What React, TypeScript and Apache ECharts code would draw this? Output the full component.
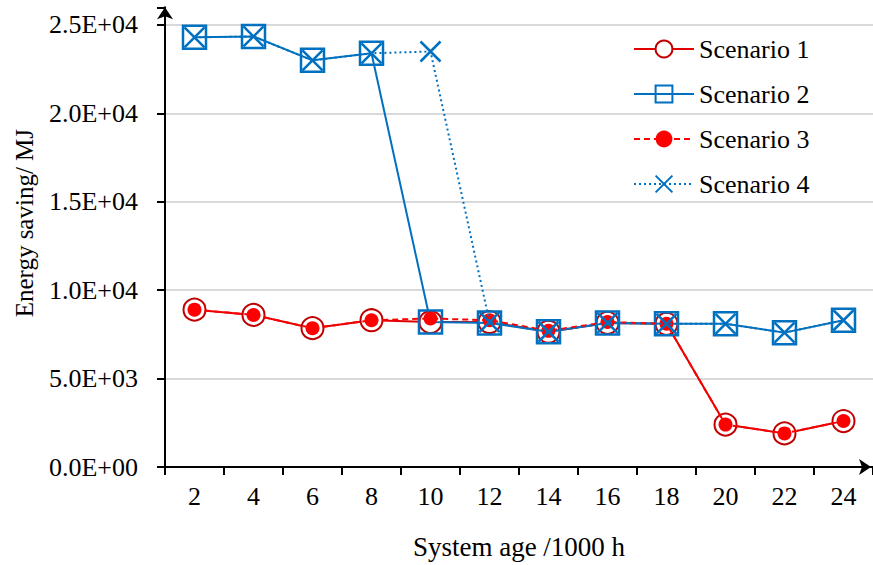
import React, { useEffect, useRef } from 'react';
import * as echarts from 'echarts';

const categories = ['2', '4', '6', '8', '10', '12', '14', '16', '18', '20', '22', '24'];
const scenario1 = [8900, 8600, 7850, 8300, 8200, 8200, 7650, 8150, 8100, 2400, 1900, 2600];
const scenario2 = [24300, 24350, 23000, 23400, 8200, 8150, 7650, 8150, 8100, 8100, 7600, 8300];
const scenario3 = [8900, 8600, 7850, 8300, 8400, 8300, 7700, 8200, 8100, 2400, 1900, 2600];
const scenario4 = [24300, 24350, 23000, 23400, 23500, 8200, 7650, 8150, 8100, 8100, 7600, 8300];
const Y_MIN = 0;
const Y_TOP_TICK = 25000;
const Y_AXIS_END = 26000;
const Y_STEP = 5000;

const FONT = "'Liberation Serif', 'Times New Roman', serif";
const RED_DARK = '#C00000';
const RED = '#FF0000';
const BLUE = '#0070C0';

function sci(v: number): string {
  if (v > Y_TOP_TICK) return '';
  const [m, e] = v.toExponential(1).split('e');
  const n = parseInt(e, 10);
  const sign = n < 0 ? '-' : '+';
  const abs = Math.abs(n);
  return m + 'E' + sign + (abs < 10 ? '0' + abs : String(abs));
}

export default function App() {
  const ref = useRef<HTMLDivElement>(null);
  useEffect(() => {
    if (!ref.current) return;
    const chart = echarts.init(ref.current, null, { renderer: 'svg' });
    chart.setOption({
      animation: false,
      backgroundColor: '#fff',
      grid: { left: 165, top: 7.3, width: 711, height: 459.7 },
      legend: {
        orient: 'vertical',
        left: 628,
        top: 31,
        itemWidth: 60,
        itemHeight: 21,
        itemGap: 19,
        textStyle: { fontFamily: FONT, fontSize: 26, color: '#000' },
        data: ['Scenario 1', 'Scenario 2', 'Scenario 3', 'Scenario 4'],
      },
      xAxis: {
        type: 'category',
        data: categories,
        boundaryGap: true,
        name: 'System age /1000 h',
        nameLocation: 'middle',
        nameGap: 66,
        nameTextStyle: { fontFamily: FONT, fontSize: 27, color: '#000' },
        axisLine: {
          lineStyle: { color: '#000', width: 2 },
          symbol: ['none', 'arrow'],
          symbolSize: [12, 12],
          symbolOffset: [0, -2],
        },
        axisTick: { show: true, length: 8, inside: false, lineStyle: { color: '#000', width: 2 } },
        axisLabel: { fontFamily: FONT, fontSize: 26, color: '#000', margin: 16 },
        splitLine: { show: false },
      },
      yAxis: [
        {
          type: 'value',
          min: Y_MIN,
          max: Y_AXIS_END,
          interval: Y_STEP,
          name: 'Energy saving/ MJ',
          nameLocation: 'middle',
          nameGap: 128,
          nameTextStyle: { fontFamily: FONT, fontSize: 25, color: '#000', padding: [0, 0, 0, 28] },
          axisLine: {
            show: true,
            onZero: false,
            lineStyle: { color: '#000', width: 2 },
            symbol: ['none', 'arrow'],
            symbolSize: [12, 12],
          },
          axisTick: {
            show: true,
            length: 8,
            inside: false,
            lineStyle: { color: '#000', width: 2 },
          },
          axisLabel: {
            fontFamily: FONT,
            fontSize: 26,
            color: '#000',
            margin: 27,
            showMaxLabel: false,
            formatter: (v: number) => sci(v),
          },
          splitLine: { show: true, showMaxLine: false, lineStyle: { color: '#D9D9D9', width: 2 } },
        },
        {
          type: 'value',
          position: 'left',
          offset: 0,
          min: Y_MIN,
          max: Y_AXIS_END,
          interval: Y_STEP,
          gridIndex: 0,
          show: true,
          axisLine: { show: false },
          axisLabel: { show: false },
          splitLine: { show: false },
          axisTick: {
            show: true,
            length: 8,
            inside: false,
            lineStyle: { color: '#000', width: 2 },
          },
        },
      ],
      series: [
        {
          name: 'Scenario 1',
          type: 'line',
          data: scenario1,
          symbol: 'circle',
          symbolSize: 22,
          lineStyle: { color: '#E00000', width: 2 },
          itemStyle: { color: '#fff', borderColor: RED_DARK, borderWidth: 2 },
          z: 2,
        },
        {
          name: 'Scenario 2',
          type: 'line',
          data: scenario2,
          symbol: 'rect',
          symbolSize: 23,
          lineStyle: { color: BLUE, width: 2 },
          itemStyle: { color: 'rgba(255,255,255,0)', borderColor: BLUE, borderWidth: 2.5 },
          z: 3,
        },
        {
          name: 'Scenario 3',
          type: 'line',
          data: scenario3,
          symbol: 'circle',
          symbolSize: 14,
          lineStyle: { color: RED, width: 2, type: [6, 4] },
          itemStyle: { color: RED, borderColor: RED, borderWidth: 0 },
          z: 4,
        },
        {
          name: 'Scenario 4',
          type: 'line',
          data: scenario4,
          symbol: 'path://M0,0L10,10M10,0L0,10',
          symbolSize: 20,
          lineStyle: { color: BLUE, width: 2, type: [2, 3] },
          itemStyle: { color: 'rgba(0,0,0,0)', borderColor: BLUE, borderWidth: 2.5 },
          z: 5,
        },
      ],
    });
    return () => chart.dispose();
  }, []);
  return (
    <div
      ref={ref}
      style={{ position: 'fixed', left: 0, top: 0, width: 873, height: 565, background: '#fff' }}
    />
  );
}
